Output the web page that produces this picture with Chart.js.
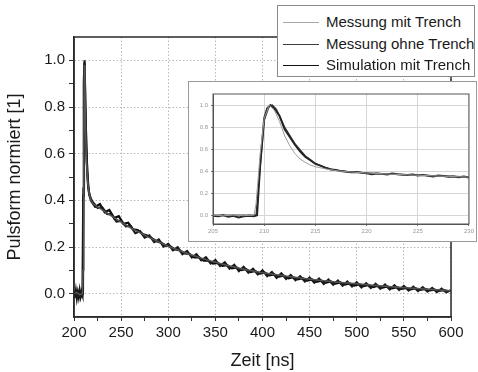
<!DOCTYPE html>
<html lang="de">
<head>
<meta charset="UTF-8">
<title>Pulsform normiert</title>
<script src="https://cdn.jsdelivr.net/npm/chart.js"></script>
<style>
    body { margin: 0; background: #fff; font-family: "Liberation Sans", Arial, sans-serif; }
    #wrap { position: relative; width: 478px; height: 372px; }
    #insetBox {
        position: absolute; left: 188px; top: 81px; width: 287px; height: 159px;
        background: #fff; border: 1px solid #9a9a9a;
    }
    #legend {
        position: absolute; left: 277px; top: 5px; width: 196px; height: 70px;
        background: #fff; border: 1px solid #8a8a8a;
    }
    .row { position: absolute; left: 0; height: 20px; width: 100%; }
    .row .ln { position: absolute; left: 5px; width: 36px; top: 10px; }
    .row .tx { position: absolute; left: 48px; top: 1px; font-size: 15px; color: #1a1a1a; white-space: nowrap; }
</style>
</head>
<body>
<div id="wrap">
    <canvas id="mainChart" width="478" height="372"></canvas>
    <div id="legend"></div>
    <div id="insetBox"><canvas id="insetChart" width="287" height="159"></canvas></div>
</div>

<script>
    // ---- labels / ticks ----
    const seriesNames = ['Messung mit Trench', 'Messung ohne Trench', 'Simulation mit Trench'];
    const seriesColors = ['#a8a8a8', '#3c3c3c', '#111111'];
    const mainXTicks = [200, 225, 250, 275, 300, 325, 350, 375, 400, 425, 450, 475, 500, 525, 550, 575, 600];
    const mainYTicks = [0.0, 0.1, 0.2, 0.3, 0.4, 0.5, 0.6, 0.7, 0.8, 0.9, 1.0];
    const insetXTicks = [205, 210, 215, 220, 225, 230];
    const insetYTicks = [0.0, 0.2, 0.4, 0.6, 0.8, 1.0];

    // ---- main plot: pulse onset (all series) ----
    const onsetMitX = [200, 203, 206, 209, 209.6, 210.4, 211, 211.6, 212.3, 213.2, 214.5, 216, 218];
    const onsetMitY = [0.0, 0.005, -0.004, 0.0, 0.1, 0.62, 0.98, 0.88, 0.7, 0.57, 0.48, 0.43, 0.4];
    const onsetOhneX = [200, 201, 202, 203, 204, 205, 206, 207, 208, 209, 209.8, 210.5, 211.2, 212, 213, 214, 215, 216, 218];
    const onsetOhneY = [0.01, -0.018, 0.012, -0.02, 0.006, -0.015, 0.014, -0.012, 0.008, -0.006, 0.42, 0.9, 1.0, 0.82, 0.64, 0.53, 0.47, 0.43, 0.405];
    const onsetSimX = [200, 202, 204, 206, 208, 209.5, 210, 210.6, 211.2, 212, 213, 214, 215, 216.5, 218.5];
    const onsetSimY = [-0.008, 0.01, -0.012, 0.006, -0.01, 0.0, 0.45, 0.93, 0.99, 0.8, 0.64, 0.53, 0.46, 0.42, 0.395];

    // ---- main plot: tail ----
    const tailMitX = [220, 240, 260, 280, 300, 320, 340, 360, 380, 400, 420, 440, 460, 480, 500, 520, 540, 560, 580, 600];
    const tailMitY = [0.385, 0.332, 0.282, 0.240, 0.203, 0.172, 0.146, 0.124, 0.105, 0.090, 0.078, 0.067, 0.057, 0.049, 0.042, 0.035, 0.029, 0.023, 0.018, 0.013];
    // Messung ohne Trench, sampled every 5 ns from 220 ns
    const tailOhneY = [
        0.392, 0.368, 0.370, 0.342, 0.340, 0.309, 0.312, 0.288, 0.290, 0.259,
        0.268, 0.240, 0.250, 0.221, 0.232, 0.202, 0.213, 0.186, 0.199, 0.169,
        0.183, 0.155, 0.169, 0.143, 0.156, 0.129, 0.144, 0.119, 0.134, 0.107,
        0.124, 0.097, 0.115, 0.090, 0.107, 0.082, 0.100, 0.075, 0.093, 0.068,
        0.087, 0.063, 0.080, 0.058, 0.075, 0.052, 0.069, 0.047, 0.065, 0.042,
        0.060, 0.038, 0.056, 0.034, 0.052, 0.031, 0.049, 0.027, 0.045, 0.024,
        0.042, 0.021, 0.039, 0.018, 0.036, 0.016, 0.033, 0.013, 0.030, 0.011,
        0.028, 0.009, 0.025, 0.007, 0.022, 0.006, 0.015
    ];
    // Simulation mit Trench, sampled every 5 ns from 222.5 ns
    const tailSimY = [
        0.372, 0.384, 0.349, 0.359, 0.324, 0.332, 0.299, 0.304, 0.276, 0.273,
        0.256, 0.249, 0.238, 0.225, 0.218, 0.207, 0.202, 0.189, 0.185, 0.172,
        0.170, 0.156, 0.157, 0.142, 0.143, 0.129, 0.132, 0.119, 0.122, 0.109,
        0.113, 0.101, 0.105, 0.093, 0.097, 0.086, 0.090, 0.079, 0.083, 0.073,
        0.077, 0.066, 0.071, 0.061, 0.066, 0.056, 0.061, 0.051, 0.056, 0.047,
        0.052, 0.043, 0.048, 0.039, 0.044, 0.035, 0.041, 0.032, 0.037, 0.028,
        0.034, 0.026, 0.031, 0.023, 0.028, 0.021, 0.025, 0.018, 0.023, 0.016,
        0.020, 0.014, 0.017, 0.012, 0.015, 0.010
    ];
    const tailOhneX = tailOhneY.map((_, i) => 220 + 5 * i);
    const tailSimX = tailSimY.map((_, i) => 222.5 + 5 * i);

    // ---- inset (205 - 230 ns) ----
    const insMitX = [205, 206, 207, 208, 209, 209.2, 209.6, 210, 210.5, 211, 211.5, 212, 212.5, 213, 213.5, 214, 214.5, 215, 216, 217, 218, 220, 222, 224, 226, 228, 230];
    const insMitY = [0.0, -0.005, 0.0, -0.004, 0.0, 0.1, 0.55, 0.88, 1.0, 0.95, 0.85, 0.72, 0.63, 0.56, 0.51, 0.48, 0.455, 0.44, 0.42, 0.405, 0.395, 0.383, 0.374, 0.366, 0.359, 0.352, 0.346];
    const insOhneX = [205, 205.5, 206, 206.5, 207, 207.5, 208, 208.5, 209, 209.3, 209.6, 210, 210.3, 210.6, 211, 211.5, 212, 212.5, 213, 213.5, 214, 214.5, 215, 215.5, 216, 216.5, 217, 217.5, 218, 218.5, 219, 219.5, 220, 220.5, 221, 221.5, 222, 222.5, 223, 223.5, 224, 224.5, 225, 225.5, 226, 226.5, 227, 227.5, 228, 228.5, 229, 229.5, 230];
    const insOhneY = [-0.005, -0.01, 0.0, -0.015, -0.005, -0.02, -0.01, -0.005, -0.01, 0.0, 0.45, 0.88, 0.97, 1.0, 0.97, 0.9, 0.78, 0.71, 0.64, 0.58, 0.53, 0.5, 0.465, 0.45, 0.43, 0.415, 0.41, 0.4, 0.395, 0.39, 0.393, 0.385, 0.38, 0.372, 0.378, 0.375, 0.37, 0.378, 0.372, 0.368, 0.365, 0.37, 0.36, 0.365, 0.358, 0.352, 0.36, 0.355, 0.348, 0.352, 0.345, 0.35, 0.343];
    const insSimX = [205, 207, 209.2, 209.6, 210, 210.5, 210.8, 211.2, 212, 213, 214, 215, 216, 217, 218, 220, 222, 225, 228, 230];
    const insSimY = [0.0, 0.0, 0.0, 0.42, 0.86, 0.99, 1.0, 0.96, 0.8, 0.65, 0.54, 0.47, 0.43, 0.41, 0.398, 0.385, 0.376, 0.365, 0.355, 0.348];

    const pts = (xs, ys) => xs.map((x, i) => ({ x: x, y: ys[i] }));
    const FONT = '"Liberation Sans", Arial, sans-serif';

    // legend (html)
    const legendEl = document.getElementById('legend');
    const legendWidths = [1, 1.5, 1.5];
    seriesNames.forEach((name, i) => {
        const row = document.createElement('div');
        row.className = 'row';
        row.style.top = (6 + i * 21.5) + 'px';
        row.innerHTML = '<div class="ln" style="border-top:' + legendWidths[i] + 'px solid ' + seriesColors[i] + '"></div>' +
            '<div class="tx">' + name + '</div>';
        legendEl.appendChild(row);
    });

    // frame around plot area
    const frame = {
        id: 'frame',
        afterDatasetsDraw(chart, args, opts) {
            const a = chart.chartArea, c = chart.ctx;
            c.save();
            c.strokeStyle = opts.color;
            c.lineWidth = opts.width;
            c.strokeRect(a.left, a.top, a.right - a.left, a.bottom - a.top);
            c.restore();
        }
    };

    const mainDatasets = [
        { label: seriesNames[0], data: pts(onsetMitX, onsetMitY).concat(pts(tailMitX, tailMitY)), borderColor: '#555', borderWidth: 1.5 },
        { label: seriesNames[1], data: pts(onsetOhneX, onsetOhneY).concat(pts(tailOhneX, tailOhneY)), borderColor: '#1a1a1a', borderWidth: 2.2 },
        { label: seriesNames[2], data: pts(onsetSimX, onsetSimY).concat(pts(tailSimX, tailSimY)), borderColor: '#0c0c0c', borderWidth: 2.2 }
    ];

    new Chart(document.getElementById('mainChart'), {
        type: 'line',
        data: { datasets: mainDatasets },
        options: {
            responsive: false,
            animation: false,
            elements: { point: { radius: 0 }, line: { tension: 0 } },
            layout: { padding: { left: 0, top: 37, right: 27, bottom: 0 } },
            plugins: { legend: { display: false }, tooltip: { enabled: false }, frame: { color: '#2a2a2a', width: 1.5 } },
            scales: {
                x: {
                    type: 'linear', min: 200, max: 600,
                    afterBuildTicks: s => { s.ticks = mainXTicks.map(v => ({ value: v })); },
                    afterFit: s => { s.height = 55; },
                    border: { color: '#2a2a2a', width: 1.5, dash: [1.5, 2] },
                    grid: {
                        color: ctx => (ctx.tick && ctx.tick.value % 50 === 0) ? '#b8b8b8' : 'rgba(0,0,0,0)',
                        tickColor: '#333', tickLength: 4
                    },
                    ticks: {
                        autoSkip: false, maxRotation: 0, padding: 3, color: '#1a1a1a',
                        font: { size: 15, family: FONT },
                        callback: v => (v % 50 === 0 ? String(v) : '')
                    },
                    title: { display: true, text: 'Zeit [ns]', color: '#1a1a1a', padding: { top: 0, bottom: 0 },
                        font: { size: 18, family: FONT } }
                },
                y: {
                    min: -0.1, max: 1.1,
                    afterBuildTicks: s => { s.ticks = mainYTicks.map(v => ({ value: v })); },
                    afterFit: s => { s.width = 74; },
                    border: { color: '#2a2a2a', width: 1.5, dash: [1.5, 2] },
                    grid: {
                        color: ctx => (ctx.tick && Math.round(ctx.tick.value * 10) % 2 === 0) ? '#b8b8b8' : 'rgba(0,0,0,0)',
                        tickColor: '#333', tickLength: 5
                    },
                    ticks: {
                        autoSkip: false, padding: 4, color: '#1a1a1a',
                        font: { size: 15, family: FONT },
                        callback: v => (Math.round(v * 10) % 2 === 0 ? v.toFixed(1) : '')
                    },
                    title: { display: true, text: 'Pulsform normiert [1]', color: '#1a1a1a', padding: { top: 4, bottom: 0 },
                        font: { size: 18, family: FONT } }
                }
            }
        },
        plugins: [frame]
    });

    const insetDatasets = [
        { label: seriesNames[0], data: pts(insMitX, insMitY), borderColor: '#9c9c9c', borderWidth: 1 },
        { label: seriesNames[1], data: pts(insOhneX, insOhneY), borderColor: '#262626', borderWidth: 2 },
        { label: seriesNames[2], data: pts(insSimX, insSimY), borderColor: '#3a3a3a', borderWidth: 1.2 }
    ];

    new Chart(document.getElementById('insetChart'), {
        type: 'line',
        data: { datasets: insetDatasets },
        options: {
            responsive: false,
            animation: false,
            elements: { point: { radius: 0 }, line: { tension: 0 } },
            layout: { padding: { left: 0, top: 12, right: 3, bottom: 0 } },
            plugins: { legend: { display: false }, tooltip: { enabled: false }, frame: { color: '#555', width: 1 } },
            scales: {
                x: {
                    type: 'linear', min: 205, max: 230,
                    afterBuildTicks: s => { s.ticks = insetXTicks.map(v => ({ value: v })); },
                    afterFit: s => { s.height = 17; },
                    border: { color: '#555', width: 1 },
                    grid: { color: '#d6d6d6', tickColor: '#777', tickLength: 2 },
                    ticks: { autoSkip: false, maxRotation: 0, padding: 2, color: '#999', font: { size: 6 } }
                },
                y: {
                    min: -0.08, max: 1.1,
                    afterBuildTicks: s => { s.ticks = insetYTicks.map(v => ({ value: v })); },
                    afterFit: s => { s.width = 24; },
                    border: { color: '#555', width: 1 },
                    grid: { color: '#d6d6d6', tickColor: '#777', tickLength: 2 },
                    ticks: { autoSkip: false, padding: 3, color: '#999', font: { size: 6 }, callback: v => v.toFixed(1) }
                }
            }
        },
        plugins: [frame]
    });
</script>
</body>
</html>
